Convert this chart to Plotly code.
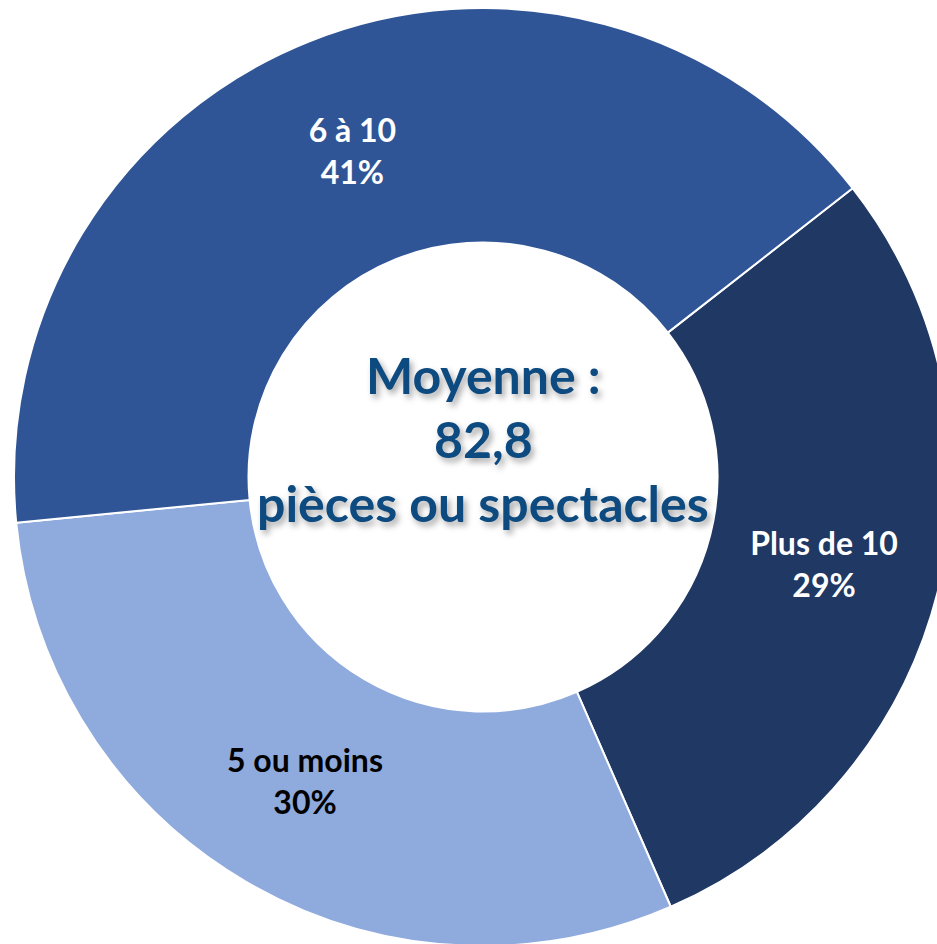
import plotly.graph_objects as go

labels = ["Plus de 10", "5 ou moins", "6 à 10"]
values = [29, 30, 41]
colors = ["#203864", "#8FAADC", "#2F5597"]
text_colors = ["white", "black", "white"]

center_lines = ["Moyenne :", "82,8", "pièces ou spectacles"]

W, H = 960, 960
cx, cy, r = 483, 477, 469

fig = go.Figure(go.Pie(
    labels=labels,
    values=values,
    hole=0.5,
    sort=False,
    direction="clockwise",
    rotation=52,
    marker=dict(colors=colors, line=dict(color="white", width=2)),
    texttemplate="<b>%{label}</b><br><b>%{value}%</b>",
    textposition="inside",
    insidetextorientation="horizontal",
    insidetextfont=dict(family="Lato", size=32, color=text_colors),
    domain=dict(x=[(cx - r) / W, (cx + r) / W], y=[(H - cy - r) / H, (H - cy + r) / H]),
    showlegend=False,
    hoverinfo="label+percent",
))

line_y = [375, 439, 503]
for txt, py in zip(center_lines, line_y):
    fig.add_annotation(
        text=f"<b>{txt}</b>", x=cx / W, y=(H - py) / H, xref="paper", yref="paper",
        xanchor="center", yanchor="middle", showarrow=False,
        font=dict(family="Lato", size=50, color="#0d4a80",
                  shadow="3px 4px 6px rgba(0,0,0,0.35)"),
    )

fig.update_layout(
    width=W, height=H,
    margin=dict(l=0, r=0, t=0, b=0),
    paper_bgcolor="white", plot_bgcolor="white",
)

fig.write_html(
    "out.html",
    config={"displayModeBar": False},
    post_script="document.body.style.margin='0';document.body.style.overflow='hidden';document.documentElement.style.overflow='hidden';",
)
